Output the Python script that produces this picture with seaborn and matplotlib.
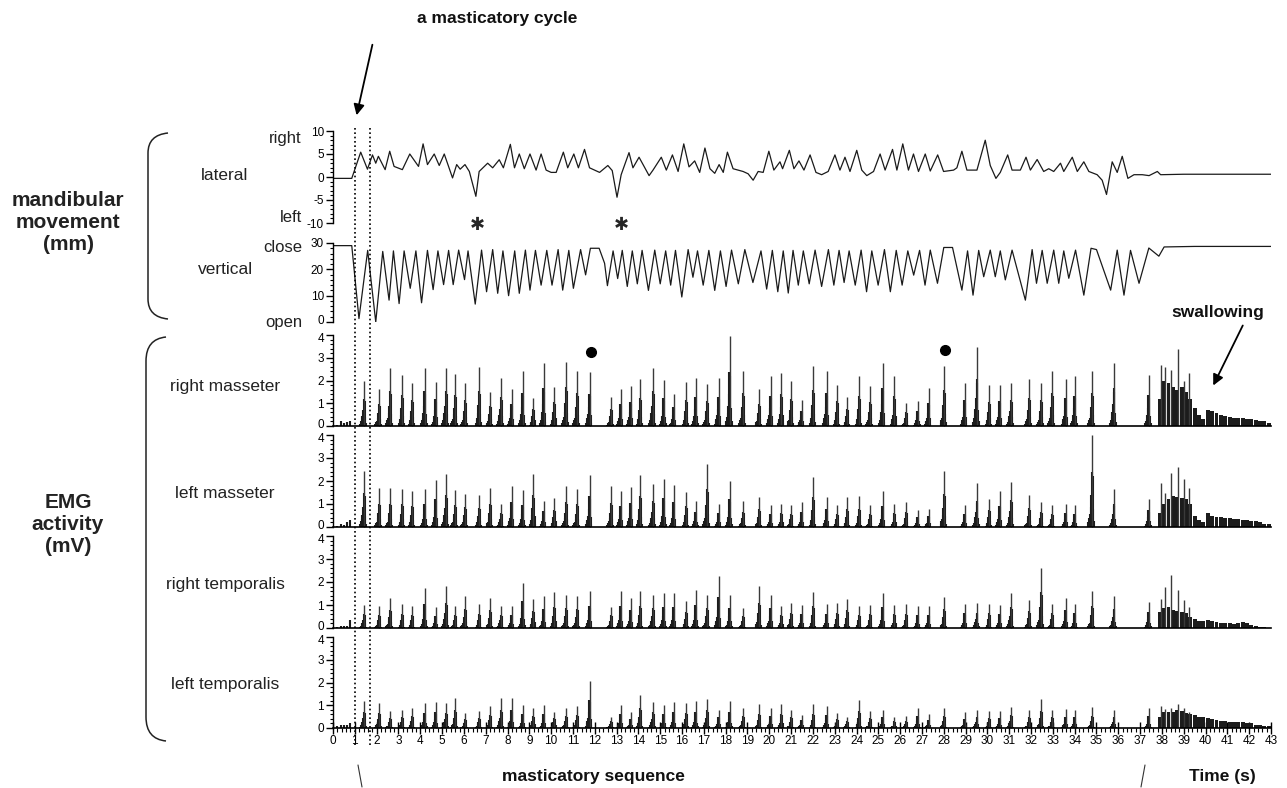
import matplotlib
matplotlib.use("Agg")
import matplotlib.pyplot as plt
import seaborn as sns
from matplotlib.patches import PathPatch, FancyArrowPatch
from matplotlib.path import Path
from matplotlib.lines import Line2D
from matplotlib.ticker import MultipleLocator
import matplotlib.transforms as mtransforms

# ---------------- data ----------------
lat_t = [0.00, 0.86, 1.27, 1.58, 1.81, 1.96, 2.08, 2.39, 2.60, 2.80,
         3.18, 3.52, 3.92, 4.13, 4.33, 4.64, 4.87, 5.10, 5.48, 5.67,
         5.83, 6.05, 6.25, 6.55, 6.70, 7.09, 7.32, 7.62, 7.81, 8.13,
         8.32, 8.54, 8.77, 9.03, 9.31, 9.54, 9.77, 10.00, 10.23, 10.56,
         10.76, 11.04, 11.25, 11.53, 11.76, 12.22, 12.60, 12.80, 13.02, 13.21,
         13.57, 13.75, 14.03, 14.49, 14.67, 15.05, 15.28, 15.56, 15.82, 16.08,
         16.32, 16.58, 16.81, 17.05, 17.28, 17.50, 17.70, 17.89, 18.08, 18.34,
         18.80, 19.03, 19.26, 19.49, 19.72, 19.98, 20.21, 20.49, 20.61, 20.92,
         21.13, 21.36, 21.59, 21.87, 22.14, 22.40, 22.70, 23.01, 23.24, 23.47,
         23.70, 24.01, 24.24, 24.47, 24.78, 25.08, 25.31, 25.65, 25.85, 26.12,
         26.38, 26.61, 26.84, 27.15, 27.38, 27.72, 27.99, 28.45, 28.60, 28.83,
         29.06, 29.52, 29.90, 30.13, 30.39, 30.59, 30.93, 31.13, 31.51, 31.77,
         31.97, 32.28, 32.58, 32.81, 33.04, 33.35, 33.50, 33.89, 34.12, 34.42,
         34.65, 35.03, 35.26, 35.46, 35.62, 35.72, 35.95, 36.18, 36.44, 36.72,
         37.10, 37.41, 37.79, 37.94, 39.00, 43.00]
lat_v = [-0.3, -0.3, 5.4, 1.7, 4.8, 3.0, 4.5, 1.6, 5.6, 2.3,
         1.6, 5.0, 2.3, 7.2, 2.7, 5.0, 2.5, 5.0, -0.2, 2.7,
         1.7, 2.7, 1.2, -4.2, 1.2, 3.0, 2.0, 3.75, 2.0, 7.1,
         2.0, 5.0, 1.8, 5.0, 1.5, 5.0, 1.5, 1.0, 1.0, 5.4,
         2.0, 5.0, 2.0, 6.0, 2.0, 1.0, 2.5, 1.4, -4.4, 0.5,
         5.3, 2.0, 4.3, 0.3, 1.5, 4.3, 1.5, 4.8, 1.2, 7.2,
         2.2, 3.5, 1.0, 6.3, 1.8, 0.8, 2.7, 1.0, 5.4, 1.8,
         1.2, 0.7, -0.7, 1.2, 1.0, 5.6, 1.5, 3.3, 1.8, 5.8,
         1.8, 3.5, 1.5, 4.8, 1.0, 0.5, 1.2, 4.8, 1.5, 4.3,
         1.2, 5.8, 1.5, 0.3, 1.2, 5.0, 1.5, 6.0, 1.5, 7.2,
         1.5, 5.0, 1.2, 5.0, 1.3, 4.8, 1.2, 1.5, 2.0, 5.6,
         1.5, 1.5, 8.0, 2.5, -0.3, 1.0, 4.8, 1.5, 1.5, 4.3,
         1.5, 3.8, 1.2, 1.8, 1.2, 3.0, 1.2, 4.3, 1.2, 3.3,
         1.2, 0.5, -0.7, -3.8, 0.5, 3.3, 1.0, 4.5, -0.3, 0.5,
         0.5, 0.3, 1.2, 0.5, 0.6, 0.6]

vert_t = [0.00, 0.86, 1.19, 1.59, 1.96, 2.28, 2.57, 2.77, 3.03, 3.26,
          3.54, 3.80, 4.06, 4.33, 4.59, 4.81, 5.07, 5.30, 5.51, 5.76,
          6.03, 6.19, 6.52, 6.81, 7.04, 7.32, 7.55, 7.79, 8.05, 8.33,
          8.54, 8.82, 9.03, 9.28, 9.54, 9.80, 10.04, 10.32, 10.53, 10.81,
          11.02, 11.35, 11.58, 11.80, 12.20, 12.45, 12.58, 12.84, 13.05, 13.26,
          13.49, 13.72, 13.95, 14.17, 14.46, 14.75, 15.00, 15.25, 15.48, 15.70,
          15.99, 16.28, 16.50, 16.71, 16.97, 17.23, 17.50, 17.76, 18.02, 18.27,
          18.58, 18.88, 19.25, 19.62, 19.88, 20.14, 20.39, 20.64, 20.87, 21.09,
          21.33, 21.56, 21.83, 22.10, 22.40, 22.71, 22.96, 23.20, 23.43, 23.66,
          23.94, 24.21, 24.46, 24.70, 24.99, 25.28, 25.55, 25.82, 26.09, 26.35,
          26.62, 26.89, 27.14, 27.38, 27.71, 28.00, 28.40, 28.83, 29.09, 29.34,
          29.60, 29.83, 30.13, 30.36, 30.59, 30.82, 31.13, 31.74, 32.05, 32.25,
          32.51, 32.74, 33.04, 33.27, 33.50, 33.73, 34.04, 34.42, 34.75, 35.00,
          35.65, 35.95, 36.26, 36.56, 36.95, 37.40, 37.86, 38.10, 39.50, 43.00]
vert_v = [29.0, 29.0, 1.3, 27.2, 0.0, 26.8, 8.3, 27.0, 7.0, 27.0,
          12.8, 27.0, 7.3, 27.2, 12.3, 27.0, 14.2, 27.2, 14.2, 27.3,
          16.1, 27.0, 6.8, 27.3, 11.5, 27.5, 10.9, 27.0, 10.0, 27.0,
          10.9, 27.3, 12.1, 27.2, 14.0, 27.2, 14.0, 27.5, 12.1, 27.2,
          12.8, 27.5, 17.9, 28.0, 28.0, 22.3, 13.8, 27.0, 16.5, 27.2,
          13.5, 27.0, 14.5, 27.2, 12.0, 27.3, 14.5, 27.0, 14.0, 27.2,
          9.5, 27.5, 17.0, 27.0, 14.0, 27.2, 12.0, 27.0, 13.5, 27.3,
          14.5, 27.5, 15.0, 27.0, 12.5, 27.2, 11.5, 27.0, 11.0, 27.2,
          14.0, 27.0, 14.5, 27.3, 13.5, 27.5, 14.0, 27.2, 15.0, 27.0,
          14.0, 27.3, 11.5, 27.0, 14.0, 27.5, 11.5, 27.2, 14.0, 27.0,
          17.8, 27.2, 14.0, 27.3, 14.7, 28.3, 28.3, 12.1, 27.0, 10.2,
          27.2, 17.2, 27.3, 17.2, 27.0, 16.0, 27.3, 8.3, 27.5, 14.7,
          27.2, 14.7, 27.3, 14.7, 27.0, 16.6, 27.3, 10.2, 28.0, 27.5,
          12.1, 27.3, 10.2, 27.2, 14.7, 28.1, 25.0, 28.5, 28.7, 28.7]

# chewing bursts (s) and peak EMG amplitude per muscle (mV)
cyc_t = [1.42, 2.11, 2.62, 3.18, 3.64, 4.21, 4.71, 5.18, 5.60, 6.06, 6.71, 7.21, 7.70, 8.19,
         8.70, 9.19, 9.66, 10.15, 10.69, 11.19, 11.76,
         12.75, 13.18, 13.64, 14.09, 14.67, 15.17, 15.62, 16.20, 16.63, 17.15, 17.68, 18.19,
         18.80, 19.54, 20.06, 20.56, 21.01, 21.48, 22.02, 22.63, 23.12, 23.58, 24.13, 24.62,
         25.20, 25.74, 26.27, 26.81, 27.30,
         28.02, 28.95, 29.52, 30.09, 30.56, 31.08, 31.91, 32.46, 32.97, 33.58, 34.01, 34.80,
         35.80, 37.40]
right_masseter = [2.0, 1.63, 2.53, 2.24, 1.9, 2.53, 1.95, 2.53, 2.3, 1.87, 2.58, 1.5, 2.1, 1.63,
                  2.42, 1.25, 2.75, 1.73, 2.83, 2.42, 2.36,
                  1.28, 1.62, 1.76, 2.06, 2.53, 2.03, 1.4, 1.94, 2.09, 1.84, 2.13, 3.97,
                  2.43, 1.62, 2.2, 2.35, 1.99, 1.13, 2.62, 2.4, 1.81, 1.28, 2.18, 1.74,
                  2.79, 2.18, 1.03, 1.1, 1.66,
                  2.62, 1.87, 3.46, 1.79, 1.81, 1.91, 2.06, 1.91, 2.4, 2.06, 2.2, 2.43,
                  2.75, 2.25]
left_masseter = [2.45, 1.7, 1.7, 1.65, 1.55, 1.65, 2.05, 2.3, 1.6, 1.45, 1.4, 1.7, 1.0, 1.8,
                 1.6, 2.3, 1.15, 1.25, 1.8, 1.65, 2.25,
                 1.77, 1.55, 1.72, 2.28, 1.87, 2.09, 1.81, 1.51, 1.12, 2.74, 1.01, 2.01,
                 1.12, 1.29, 0.94, 1.01, 0.97, 1.07, 2.16, 1.29, 0.97, 1.29, 1.33, 0.94,
                 1.55, 1.01, 1.07, 0.75, 0.8,
                 2.42, 0.97, 1.9, 1.23, 1.55, 1.94, 1.38, 1.07, 0.97, 1.01, 0.94, 4.0,
                 1.65, 1.22]
right_temporalis = [1.02, 0.95, 1.32, 1.05, 0.95, 1.72, 0.9, 1.83, 0.95, 1.4, 1.05, 1.3, 0.95, 0.95,
                    1.95, 1.25, 1.4, 1.55, 1.45, 1.4, 1.6,
                    0.92, 1.61, 1.31, 1.61, 1.45, 1.54, 1.54, 1.18, 1.67, 1.45, 2.27, 1.45,
                    0.87, 1.83, 1.45, 0.96, 1.1, 1.02, 1.57, 1.05, 1.09, 1.28, 0.96, 1.02,
                    1.54, 1.02, 1.03, 0.95, 0.96,
                    1.35, 1.06, 1.1, 1.06, 1.02, 1.54, 1.2, 2.63, 1.06, 1.32, 1.06, 1.61,
                    1.4, 1.13]
left_temporalis = [1.2, 1.1, 0.75, 0.8, 0.9, 1.1, 1.15, 1.1, 1.3, 0.65, 0.75, 0.95, 1.3, 1.3,
                   1.0, 0.9, 1.0, 0.7, 0.9, 0.95, 2.05,
                   0.49, 1.0, 0.69, 1.44, 1.15, 1.0, 1.15, 1.1, 1.18, 1.29, 0.78, 1.18,
                   0.88, 1.06, 0.88, 1.06, 0.78, 0.59, 1.06, 0.96, 0.66, 0.49, 1.22, 0.74,
                   0.81, 0.49, 0.51, 0.88, 0.62,
                   0.88, 0.69, 0.78, 0.74, 0.74, 0.93, 0.78, 1.28, 0.78, 0.84, 0.78, 0.91,
                   0.78, 0.88]

# resting activity before chewing
pre_t = [0.2, 0.35, 0.5, 0.65, 0.8]
rm_pre = [0.05, 0.2, 0.15, 0.18, 0.2]
lm_pre = [0.05, 0.15, 0.1, 0.2, 0.3]
rt_pre = [0.05, 0.08, 0.08, 0.1, 0.35]
lt_pre = [0.1, 0.15, 0.12, 0.15, 0.2]

# swallowing period: sustained activity + spikes
sw_t = [37.9, 38.1, 38.3, 38.5, 38.7, 38.9, 39.1, 39.3, 39.5, 39.7, 39.9, 40.1, 40.3,
        40.5, 40.7, 40.9, 41.1, 41.3, 41.5, 41.7, 41.9, 42.1, 42.3, 42.5, 42.7, 42.9]
rm_sw = [1.2, 2.0, 1.9, 1.7, 1.6, 1.7, 1.5, 1.2, 0.8, 0.5, 0.3, 0.7, 0.65,
         0.55, 0.5, 0.45, 0.4, 0.35, 0.35, 0.35, 0.3, 0.3, 0.25, 0.2, 0.2, 0.15]
lm_sw = [0.6, 1.0, 1.2, 1.35, 1.3, 1.25, 1.2, 1.0, 0.5, 0.3, 0.2, 0.6, 0.5,
         0.45, 0.42, 0.4, 0.38, 0.35, 0.33, 0.3, 0.3, 0.28, 0.25, 0.2, 0.15, 0.12]
rt_sw = [0.7, 0.85, 0.9, 0.8, 0.75, 0.7, 0.65, 0.5, 0.4, 0.3, 0.3, 0.35, 0.3,
         0.25, 0.22, 0.2, 0.2, 0.18, 0.22, 0.25, 0.2, 0.15, 0.1, 0.05, 0.03, 0.02]
lt_sw = [0.5, 0.7, 0.7, 0.72, 0.78, 0.75, 0.65, 0.6, 0.55, 0.5, 0.48, 0.45, 0.4,
         0.35, 0.32, 0.3, 0.28, 0.26, 0.25, 0.25, 0.22, 0.2, 0.15, 0.12, 0.1, 0.1]
sw_spk_t = [37.95, 38.15, 38.4, 38.75, 39.0, 39.25]
rm_spk = [2.7, 2.6, 2.45, 3.4, 2.0, 2.35]
lm_spk = [1.9, 1.5, 2.35, 2.6, 2.1, 1.7]
rt_spk = [1.25, 1.8, 2.3, 1.65, 1.2, 0.9]
lt_spk = [0.95, 0.85, 0.9, 1.05, 0.9, 0.7]

star_t = [6.6, 13.2]          # atypical cycles (*)
dot_t = [11.83, 28.06]        # marked bursts (●)
dot_y = [3.25, 3.34]
cycle_bounds = [1.0, 1.68]    # dotted lines: one masticatory cycle

time_ticks = list(range(0, 44))

# ---------------- style ----------------
BURST_DX = [-0.17, -0.13, -0.10, -0.07, -0.045, -0.02, 0.025, 0.05, 0.08]
BURST_REL = [0.05, 0.10, 0.14, 0.22, 0.35, 0.60, 0.55, 0.20, 0.06]
DARK = "#1c1c1c"

sns.set_theme(style="ticks")
plt.rcParams["font.family"] = ["Liberation Sans", "DejaVu Sans"]
plt.rcParams["axes.linewidth"] = 1.0

W, H = 1287, 788
fig = plt.figure(figsize=(W / 100, H / 100), dpi=100)
fig.patch.set_facecolor("white")

X0, X1 = 333, 1271


def add_panel(top, bottom):
    return fig.add_axes([X0 / W, 1 - bottom / H, (X1 - X0) / W, (bottom - top) / H])


ax_lat = add_panel(131, 223)
ax_ver = add_panel(243, 322)
ax_rm = add_panel(335, 426)
ax_lm = add_panel(435, 527)
ax_rt = add_panel(536, 628)
ax_lt = add_panel(637, 728)
axes = [ax_lat, ax_ver, ax_rm, ax_lm, ax_rt, ax_lt]

for ax in axes:
    ax.set_xlim(0, 43)
    ax.patch.set_alpha(0)
    for s in ["top", "right"]:
        ax.spines[s].set_visible(False)
    ax.spines["left"].set_color("black")
    ax.spines["bottom"].set_color("black")
    ax.tick_params(axis="y", which="major", direction="out", length=5, width=1,
                   labelsize=8.5, pad=1.5, colors="black", left=True)
    ax.tick_params(axis="y", which="minor", direction="out", length=2.5, width=0.8,
                   colors="black", left=True)
    if ax is not ax_lt:
        ax.tick_params(axis="x", which="both", bottom=False, labelbottom=False)

for ax in [ax_lat, ax_ver]:
    ax.spines["bottom"].set_visible(False)

# lateral
sns.lineplot(x=lat_t, y=lat_v, ax=ax_lat, color="#1a1a1a", linewidth=0.9,
             sort=False, estimator=None)
ax_lat.set_ylim(-10, 10)
ax_lat.set_yticks([-10, -5, 0, 5, 10])
ax_lat.set_yticklabels(["-10", "-5", "0", "5", "10"])
ax_lat.yaxis.set_minor_locator(MultipleLocator(1))

# vertical
sns.lineplot(x=vert_t, y=vert_v, ax=ax_ver, color="#1a1a1a", linewidth=0.9,
             sort=False, estimator=None)
ax_ver.set_ylim(0, 30)
ax_ver.set_yticks([0, 10, 20, 30])
ax_ver.set_yticklabels(["0", "10", "20", "30"])
ax_ver.yaxis.set_minor_locator(MultipleLocator(2))


def draw_emg(ax, peaks, pre, body, spikes):
    for t, p in zip(cyc_t, peaks):
        xs = [t + d for d in BURST_DX]
        hs = [p * r for r in BURST_REL]
        ax.vlines(xs, 0, hs, colors=DARK, lw=1.5)
    ax.vlines(cyc_t, 0, peaks, colors="#3a3a3a", lw=1.0, clip_on=False)
    ax.vlines(pre_t, 0, pre, colors=DARK, lw=1.5)
    ax.bar(sw_t, body, width=0.18, color=DARK, linewidth=0)
    ax.vlines(sw_spk_t, 0, spikes, colors="#3a3a3a", lw=1.0)
    ax.set_ylim(0, 4)
    ax.set_yticks([0, 1, 2, 3, 4])
    ax.set_yticklabels(["0", "1", "2", "3", "4"])
    ax.yaxis.set_minor_locator(MultipleLocator(0.2))
    ax.spines["bottom"].set_linewidth(1.2)


draw_emg(ax_rm, right_masseter, rm_pre, rm_sw, rm_spk)
draw_emg(ax_lm, left_masseter, lm_pre, lm_sw, lm_spk)
draw_emg(ax_rt, right_temporalis, rt_pre, rt_sw, rt_spk)
draw_emg(ax_lt, left_temporalis, lt_pre, lt_sw, lt_spk)

ax_lt.set_xticks(time_ticks)
ax_lt.set_xticklabels([str(t) for t in time_ticks])
ax_lt.xaxis.set_minor_locator(MultipleLocator(0.2))
ax_lt.tick_params(axis="x", which="major", direction="inout", length=8, width=1,
                  labelsize=8.5, pad=1, colors="black", bottom=True)
ax_lt.tick_params(axis="x", which="minor", direction="out", length=3, width=0.8,
                  colors="black", bottom=True)

for ax in axes:
    ax.set_xlabel("")
    ax.set_ylabel("")

# markers: asterisks and dots
for t in star_t:
    ax_lat.text(t, -10.4, "\u2731", ha="center", va="center", fontsize=13,
                family="DejaVu Sans", clip_on=False)
ax_rm.plot(dot_t, dot_y, "o", color="black", ms=7, clip_on=False)

# dotted cycle lines across all panels
blend = mtransforms.blended_transform_factory(ax_lat.transData, fig.transFigure)
for xb in cycle_bounds:
    fig.add_artist(Line2D([xb, xb], [1 - 128 / H, 1 - 746 / H], transform=blend,
                          color="black", lw=1.2, linestyle=(0, (1, 1.6))))


# ---------------- text / annotations ----------------
def fx(x):
    return x / W


def fy(y):
    return 1 - y / H


row_kw = dict(ha="center", va="center", fontsize=12.5, color="#222222")
fig.text(fx(225), fy(176), "lateral", **row_kw)
fig.text(fx(225), fy(270), "vertical", **row_kw)
fig.text(fx(225), fy(386), "right masseter", **row_kw)
fig.text(fx(225), fy(493), "left masseter", **row_kw)
fig.text(fx(225), fy(585), "right temporalis", **row_kw)
fig.text(fx(225), fy(684), "left temporalis", **row_kw)

side_kw = dict(ha="right", va="center", fontsize=12, color="#222222")
fig.text(fx(302), fy(139), "right", **side_kw)
fig.text(fx(302), fy(218), "left", **side_kw)
fig.text(fx(302), fy(248), "close", **side_kw)
fig.text(fx(302), fy(323), "open", **side_kw)

grp_kw = dict(ha="center", va="center", fontsize=15, fontweight="bold",
              linespacing=1.2, color="#222222")
fig.text(fx(68), fy(222), "mandibular\nmovement\n(mm)", **grp_kw)
fig.text(fx(68), fy(525), "EMG\nactivity\n(mV)", **grp_kw)

bold_kw = dict(ha="center", va="center", fontsize=12.5, fontweight="bold", color="#111111")
fig.text(fx(497), fy(19), "a masticatory cycle", **bold_kw)
fig.text(fx(1218), fy(313), "swallowing", **bold_kw)
fig.text(fx(593), fy(777), "masticatory sequence", **bold_kw)
fig.text(fx(1222), fy(776), "Time (s)", **bold_kw)

for (xa, ya), (xb, yb) in [((373, 42), (356, 118)), ((1244, 323), (1212, 388))]:
    fig.add_artist(FancyArrowPatch((fx(xa), fy(ya)), (fx(xb), fy(yb)),
                                   transform=fig.transFigure, arrowstyle="-|>",
                                   mutation_scale=16, lw=1.3, color="black"))


def brace(x_end, x_line, y_top, y_bot, r):
    verts = [(x_end, y_top), (x_line, y_top + 2), (x_line, y_top + r),
             (x_line, y_bot - r), (x_line, y_bot - 2), (x_end, y_bot)]
    codes = [Path.MOVETO, Path.CURVE3, Path.CURVE3, Path.LINETO, Path.CURVE3, Path.CURVE3]
    verts = [(fx(x), fy(y)) for x, y in verts]
    fig.add_artist(PathPatch(Path(verts, codes), transform=fig.transFigure,
                             fill=False, lw=1.1, edgecolor="#222222"))


brace(168, 148, 133, 319, 20)
brace(166, 146, 337, 741, 24)

for pts in [[(358, 765), (360, 776), (362, 787)], [(1145, 765), (1143, 776), (1141, 787)]]:
    fig.add_artist(Line2D([fx(p[0]) for p in pts], [fy(p[1]) for p in pts],
                          transform=fig.transFigure, color="#333333", lw=0.8))

# stacked "0" / "4" tick labels: nudge apart slightly, as in the original
up = mtransforms.ScaledTranslation(0, 0.025, fig.dpi_scale_trans)
down = mtransforms.ScaledTranslation(0, -0.025, fig.dpi_scale_trans)
for ax in [ax_ver, ax_rm, ax_lm, ax_rt]:
    lab = ax.yaxis.get_major_ticks()[0].label1
    lab.set_transform(lab.get_transform() + up)
for ax in [ax_rm, ax_lm, ax_rt, ax_lt]:
    lab = ax.yaxis.get_major_ticks()[-1].label1
    lab.set_transform(lab.get_transform() + down)

fig.savefig("out.png", dpi=100, facecolor="white")
